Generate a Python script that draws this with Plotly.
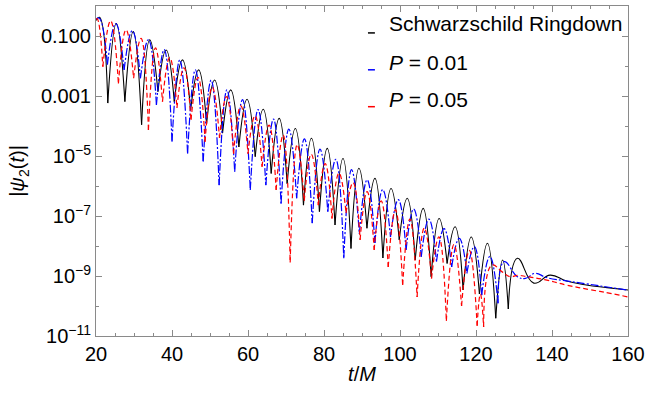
import plotly.graph_objects as go

# ---------------- data ----------------
# Schwarzschild ringdown (black, solid)
bh_start_t = 20.0
bh_start_v = 0.33
bh_peak_t = [20.9, 25.35, 29.8, 34.15, 38.45, 42.75, 47.0, 51.2, 55.45, 59.75, 64.0, 68.2, 72.45,
             76.7, 80.85, 85.0, 89.2, 93.4, 97.65, 101.9, 106.1, 110.3, 114.5, 118.75, 123.0, 127.0]
bh_peak_v = [0.42, 0.26, 0.14, 0.074, 0.034, 0.016, 7.4e-3, 3.4e-3, 1.6e-3, 7.8e-4, 3.6e-4, 1.8e-4, 8.3e-5,
             3.9e-5, 1.8e-5, 8.3e-6, 3.9e-6, 1.8e-6, 8.3e-7, 3.9e-7, 1.8e-7, 8.3e-8, 4.4e-8, 2.0e-8, 1.23e-8, 3.4e-9]
bh_dip_t = [23.1, 27.6, 32.0, 36.3, 40.6, 44.9, 49.1, 53.3, 57.6, 61.9, 66.1, 70.3, 74.6,
            78.8, 82.9, 87.1, 91.3, 95.5, 99.8, 104.0, 108.2, 112.4, 116.6, 120.9, 125.2, 128.5]
bh_dip_v = [5.8e-4, 6.5e-4, 1.1e-4, 1.4e-3, 6.5e-4, 3.4e-4, 1.2e-4, 5.8e-5, 2.0e-5, 9.5e-6, 2.6e-6, 1.2e-6, 2.3e-7,
            1.4e-7, 5.0e-8, 8.3e-9, 3.9e-8, 4.0e-9, 1.6e-8, 3.4e-9, 9.5e-10, 2.6e-9, 3.4e-10, 2.5e-10, 3.9e-11, 7.9e-11]
bh_tail_t = [130.9, 135.2, 139.5, 143.8, 149.0, 154.5, 160.0]
bh_tail_v = [3.9e-9, 5.8e-10, 1.07e-9, 6.8e-10, 5.0e-10, 4.1e-10, 3.4e-10]

# P = 0.01 (blue, dot-dashed)
p1_start_t = 20.0
p1_start_v = 0.355
p1_peak_t = [20.8, 25.2, 29.55, 33.8, 37.95, 42.05, 46.15, 50.3, 54.45, 58.55, 62.65, 66.7, 70.75,
             74.85, 78.95, 83.1, 87.25, 91.35, 95.45, 99.55, 103.6, 107.6, 111.6, 115.6, 119.55, 123.65]
p1_peak_v = [0.40, 0.26, 0.15, 0.076, 0.035, 0.016, 7.4e-3, 3.4e-3, 1.6e-3, 7.6e-4, 3.5e-4, 1.7e-4, 7.9e-5,
             3.7e-5, 1.7e-5, 7.8e-6, 3.5e-6, 1.6e-6, 7.6e-7, 3.5e-7, 1.7e-7, 7.9e-8, 3.8e-8, 1.8e-8, 9.5e-9, 4.5e-9]
p1_dip_t = [23.0, 27.4, 31.7, 35.9, 40.0, 44.1, 48.2, 52.4, 56.5, 60.6, 64.7, 68.7, 72.8,
            76.9, 81.0, 85.2, 89.3, 93.4, 97.5, 101.6, 105.6, 109.6, 113.6, 117.6, 121.5, 125.8]
p1_dip_v = [0.011, 7.4e-3, 3.9e-3, 5.0e-4, 3.0e-5, 1.2e-5, 6.5e-6, 1.07e-6, 3.0e-6, 7.4e-7, 1.07e-6, 2.6e-7, 3.9e-7,
            5.8e-8, 1.4e-7, 3.9e-9, 2.5e-8, 1.26e-8, 2.0e-8, 7.4e-9, 4.4e-9, 3.0e-9, 2.0e-9, 1.23e-9, 2.3e-10, 1.23e-10]
p1_tail_t = [127.4, 130.9, 133.0, 135.6, 138.5, 143.0, 149.0, 154.5, 160.0]
p1_tail_v = [3.0e-9, 9.5e-10, 8.3e-10, 1.23e-9, 8.9e-10, 7.1e-10, 5.5e-10, 4.3e-10, 3.4e-10]

# P = 0.05 (red, dashed)
p5_start_t = 20.0
p5_start_v = 0.36
p5_peak_t = [20.3, 23.85, 27.9, 31.85, 35.65, 39.4, 43.15, 46.85, 50.6, 54.35, 58.1, 61.85, 65.55, 69.25,
             72.95, 76.65, 80.3, 83.95, 87.65, 91.35, 95.05, 98.8, 102.6, 106.4, 110.25, 114.2, 118.25, 121.15]
p5_peak_v = [0.38, 0.32, 0.16, 0.083, 0.040, 0.019, 8.7e-3, 4.2e-3, 2.0e-3, 9.5e-4, 4.7e-4, 2.2e-4, 1.07e-4, 5.0e-5,
             2.4e-5, 1.15e-5, 5.6e-6, 2.7e-6, 1.3e-6, 6.5e-7, 3.2e-7, 1.6e-7, 7.9e-8, 4.0e-8, 2.0e-8, 1.12e-8, 7.1e-9, 2.5e-10]
p5_dip_t = [21.8, 25.9, 29.9, 33.8, 37.5, 41.3, 45.0, 48.7, 52.5, 56.2, 60.0, 63.7, 67.4, 71.1,
            74.8, 78.5, 82.1, 85.8, 89.5, 93.2, 96.9, 100.7, 104.5, 108.3, 112.2, 116.2, 120.3, 122.0]
p5_dip_v = [9.5e-3, 2.6e-3, 3.9e-3, 7.4e-5, 6.5e-4, 4.0e-4, 1.6e-4, 3.0e-5, 4.0e-5, 1.2e-5, 1.2e-5, 4.4e-6, 7.4e-7, 2.8e-9,
            3.2e-7, 2.3e-7, 8.3e-8, 1.26e-7, 1.6e-8, 7.4e-9, 2.0e-9, 5.0e-10, 2.0e-10, 8.3e-10, 3.2e-11, 1.0e-10, 2.2e-11, 2.0e-11]
p5_tail_t = [124.2, 126.8, 129.0, 131.0, 133.5, 138.0, 143.8, 150.0, 155.0, 160.0]
p5_tail_v = [2.3e-9, 1.4e-9, 9.5e-10, 1.05e-9, 9.5e-10, 7.6e-10, 5.0e-10, 3.5e-10, 2.7e-10, 2.0e-10]

series_names = ["Schwarzschild Ringdown", "<i>P</i> = 0.01", "<i>P</i> = 0.05"]

x_tick_vals = [20, 40, 60, 80, 100, 120, 140, 160]
y_tick_vals = [1e-11, 1e-9, 1e-7, 1e-5, 1e-3, 1e-1]
y_tick_text = ["10<sup>\u221211</sup>", "10<sup>\u22129</sup>", "10<sup>\u22127</sup>",
               "10<sup>\u22125</sup>", "0.001", "0.100"]
y_minor_vals = [1e-10, 1e-8, 1e-6, 1e-4, 1e-2, 1.0]


def arcs(start_t, start_v, peak_t, peak_v, dip_t, dip_v, tail_t, tail_v):
    """Chain of arcs: each arc runs dip -> peak -> next dip (gaps keep the cusps sharp)."""
    xs = [start_t, peak_t[0], dip_t[0]]
    ys = [start_v, peak_v[0], dip_v[0]]
    for i in range(1, len(dip_t)):
        xs += [None, dip_t[i - 1], peak_t[i], dip_t[i]]
        ys += [None, dip_v[i - 1], peak_v[i], dip_v[i]]
    xs += [None, dip_t[-1]] + tail_t
    ys += [None, dip_v[-1]] + tail_v
    return xs, ys


FONT = "Liberation Sans, Arial, sans-serif"
FRAME = "#8a8a8a"
PX_L, PX_R, PX_T, PX_B = 96, 632, 5, 336

fig = go.Figure()
styles = [
    (arcs(bh_start_t, bh_start_v, bh_peak_t, bh_peak_v, bh_dip_t, bh_dip_v, bh_tail_t, bh_tail_v),
     "#000000", "solid", 1.1),
    (arcs(p1_start_t, p1_start_v, p1_peak_t, p1_peak_v, p1_dip_t, p1_dip_v, p1_tail_t, p1_tail_v),
     "#0000ff", "8px,2px,2px,2px", 1.2),
    (arcs(p5_start_t, p5_start_v, p5_peak_t, p5_peak_v, p5_dip_t, p5_dip_v, p5_tail_t, p5_tail_v),
     "#ff0000", "5px,3px", 1.2),
]
for (xs, ys), col, dash, w in styles:
    fig.add_trace(go.Scatter(x=xs, y=ys, mode="lines", connectgaps=False, showlegend=False,
                             line=dict(color=col, width=w, dash=dash, shape="spline", smoothing=1.3),
                             hoverinfo="skip"))

# manual legend (Mathematica style: short line + label)
def px_x(p):
    return (p - PX_L) / (PX_R - PX_L)

def px_y(p):
    return (PX_B - p) / (PX_B - PX_T)

leg_rows = [(23, 32), (62, 69), (99, 106)]
leg_cols = ["#000000", "#0000ff", "#ff0000"]
for name, (ty, my), col in zip(series_names, leg_rows, leg_cols):
    fig.add_annotation(xref="paper", yref="paper", x=px_x(389), y=px_y(ty), text=name,
                       showarrow=False, xanchor="left", yanchor="middle",
                       font=dict(family=FONT, size=21, color="#000000"))
    fig.add_shape(type="line", xref="paper", yref="paper", x0=px_x(370), x1=px_x(377),
                  y0=px_y(my), y1=px_y(my), line=dict(color=col, width=1.5))

fig.update_layout(
    width=650, height=395,
    margin=dict(l=PX_L, r=650 - PX_R, t=PX_T, b=395 - PX_B),
    paper_bgcolor="white", plot_bgcolor="white",
    font=dict(family=FONT, size=20, color="#000000"),
)
fig.update_xaxes(
    range=[20, 160], tickvals=x_tick_vals, ticks="inside", ticklen=6, tickwidth=1, tickcolor=FRAME,
    showline=True, linecolor=FRAME, linewidth=1, mirror="allticks", showgrid=False, zeroline=False,
    minor=dict(dtick=5, tick0=20, ticks="inside", ticklen=3, tickcolor=FRAME, showgrid=False),
    title=dict(text="<i>t</i>/<i>M</i>", font=dict(family=FONT, size=20), standoff=2),
    tickfont=dict(family=FONT, size=20),
)
fig.update_yaxes(
    type="log", range=[-11, 0], tickvals=y_tick_vals, ticktext=y_tick_text,
    ticks="inside", ticklen=6, tickwidth=1, tickcolor=FRAME,
    showline=True, linecolor=FRAME, linewidth=1, mirror="allticks", showgrid=False, zeroline=False,
    minor=dict(tickvals=y_minor_vals, ticks="inside", ticklen=3, tickcolor=FRAME, showgrid=False),
    title=dict(text="|<i>\u03c8</i><sub>2</sub>(<i>t</i>)|", font=dict(family=FONT, size=20), standoff=10),
    tickfont=dict(family=FONT, size=20),
)

# the page's default 8px body margin would shift the 650x395 figure; remove it
fig.write_html("out.html", config={"displayModeBar": False},
               post_script="document.body.style.margin='0px';")
